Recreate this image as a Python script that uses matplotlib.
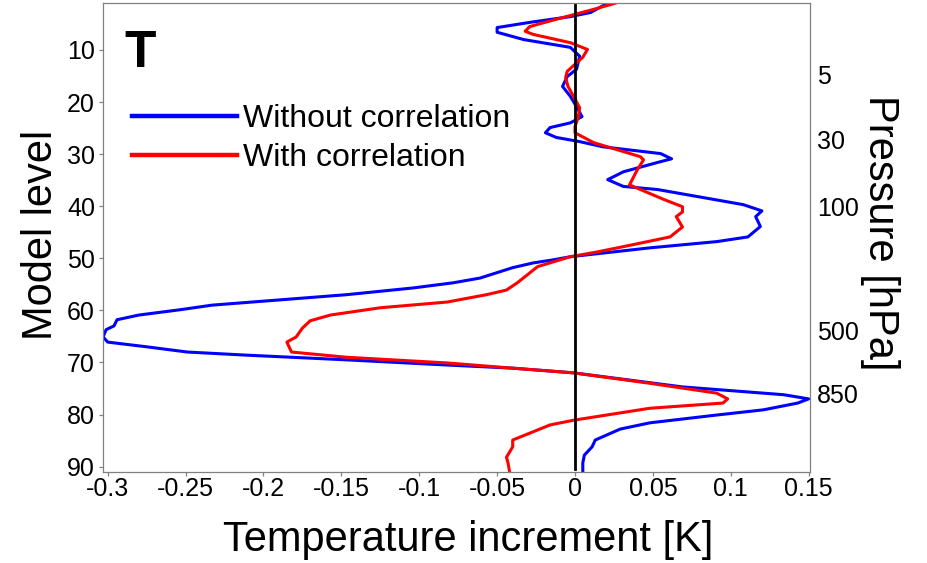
import numpy as np
import matplotlib
matplotlib.use("Agg")
import matplotlib.pyplot as plt

plt.rcParams['font.family'] = ['Liberation Sans', 'DejaVu Sans']

# temperature increment profiles (K) against model level
blue_level = [1, 2.8, 3.6, 4.7, 5.7, 6.6, 8.0, 9.5, 11.2, 13.7,
              15.1, 17.0, 18.9, 20.9, 22.8, 24.0, 24.9, 25.9, 26.8, 27.6,
              28.6, 29.9, 30.9, 31.6, 33.4, 34.9, 36.2, 36.8, 38.8, 39.7,
              40.9, 42.0, 43.9, 45.9, 46.8, 48.0, 49.7, 50.3, 50.9, 51.8,
              53.8, 54.7, 55.7, 57.0, 58.0, 59.0, 59.9, 60.9, 61.8, 63.0,
              63.7, 65.1, 66.1, 67.0, 68.0, 68.6, 69.5, 70.5, 71.1, 72.0,
              74.7, 76.2, 77.0, 77.8, 79.1, 80.1, 81.6, 82.8, 84.9, 86.2,
              87.8, 89.3, 91]
blue_dT = [0.021, 0.010, -0.003, -0.029, -0.050, -0.050, -0.033, -0.003, 0.003, 0.001,
           -0.005, -0.008, -0.003, 0.001, 0.0045, -0.003, -0.016, -0.019, -0.012, 0.003,
           0.018, 0.055, 0.062, 0.053, 0.031, 0.021, 0.031, 0.053, 0.091, 0.108,
           0.120, 0.116, 0.119, 0.111, 0.091, 0.048, -0.003, -0.014, -0.027, -0.040,
           -0.061, -0.078, -0.104, -0.147, -0.190, -0.233, -0.254, -0.280, -0.294, -0.296,
           -0.301, -0.303, -0.300, -0.275, -0.249, -0.211, -0.147, -0.082, -0.040, -0.001,
           0.069, 0.134, 0.150, 0.143, 0.121, 0.091, 0.048, 0.029, 0.013, 0.011,
           0.006, 0.005, 0.005]

red_level = [1, 2.2, 4.1, 5.5, 6.4, 7.0, 8.6, 9.9, 11.4, 14.1,
             15.3, 17.0, 18.9, 21.1, 23.0, 24.7, 25.9, 27.8, 29.5, 30.5,
             31.1, 33.0, 35.9, 38.7, 40.1, 41.1, 42.0, 44.0, 45.9, 47.4,
             48.8, 49.7, 51.6, 54.7, 56.1, 57.0, 58.4, 59.5, 60.9, 62.0,
             63.4, 65.1, 66.1, 68.0, 69.0, 70.1, 71.1, 72.0, 74.0, 75.9,
             77.0, 77.8, 78.8, 81.1, 82.0, 84.9, 86.2, 88.2, 89.3, 91]
red_dT = [0.026, 0.012, -0.012, -0.029, -0.032, -0.027, -0.003, 0.008, 0.005, -0.005,
          -0.006, -0.0045, -0.001, 0.003, 0.002, 0.0, 0.0, 0.012, 0.031, 0.042,
          0.044, 0.040, 0.035, 0.057, 0.069, 0.069, 0.065, 0.069, 0.061, 0.037,
          0.014, -0.003, -0.024, -0.037, -0.044, -0.057, -0.082, -0.125, -0.157, -0.170,
          -0.175, -0.179, -0.185, -0.182, -0.147, -0.082, -0.040, -0.001, 0.048, 0.091,
          0.098, 0.095, 0.048, -0.001, -0.016, -0.040, -0.040, -0.044, -0.043, -0.042]

x_ticks = [-0.3, -0.25, -0.2, -0.15, -0.1, -0.05, 0, 0.05, 0.1, 0.15]
x_tick_labels = ['-0.3', '-0.25', '-0.2', '-0.15', '-0.1', '-0.05', '0', '0.05', '0.1', '0.15']
level_ticks = [10, 20, 30, 40, 50, 60, 70, 80, 90]

# pressure (hPa) shown on the right, placed at the matching model level
pressure_labels = ['5', '30', '100', '500', '850']
pressure_level = [14.7, 27.2, 40.1, 63.8, 75.9]

grey = '#808080'

fig = plt.figure(figsize=(9.27, 5.63), dpi=100)
ax = fig.add_axes([0.1115, 0.162, 0.7625, 0.8325])

ax.plot(blue_dT, blue_level, color='#0000ff', lw=2.2, label='Without correlation')
ax.plot(red_dT, red_level, color='#ff0000', lw=2.2, label='With correlation')
ax.axvline(0, ymin=0.006, color='k', lw=2)

ax.set_xlim(-0.3028, 0.151)
ax.set_ylim(91, 1)
ax.set_xticks(x_ticks)
ax.set_xticklabels(x_tick_labels)
ax.set_yticks(level_ticks)

for s in ax.spines.values():
    s.set_color(grey)
    s.set_linewidth(0.9)
ax.tick_params(axis='both', labelsize=18, length=3, width=0.9, color=grey, direction='out')
ax.tick_params(axis='x', pad=1)
ax.tick_params(axis='y', pad=3)

ax.set_xlabel('Temperature increment [K]', fontsize=30, va='center')
ax.xaxis.set_label_coords(0.516, -0.146)
ax.set_ylabel('Model level', fontsize=30, va='center')
ax.yaxis.set_label_coords(-0.088, 0.505)

ax2 = ax.twinx()
ax2.set_ylim(91, 1)
ax2.set_yticks(pressure_level)
ax2.set_yticklabels(pressure_labels)
ax2.tick_params(axis='y', length=0, pad=5, labelsize=18)
for s in ax2.spines.values():
    s.set_visible(False)
ax2.set_ylabel('Pressure [hPa]', fontsize=30, rotation=270, va='center', ha='center')
ax2.yaxis.set_label_coords(1.099, 0.509)

ax.text(0.052, 0.892, 'T', transform=ax.transAxes, fontsize=37, fontweight='bold',
        ha='center', va='center')

leg = ax.legend(loc='upper left', bbox_to_anchor=(0.0406, 0.785), frameon=False,
                fontsize=23, handlelength=3.3, handletextpad=0.18,
                labelspacing=0.28, borderpad=0, borderaxespad=0)
for h in leg.get_lines():
    h.set_linewidth(3.2)

fig.savefig('out.png', dpi=100)
